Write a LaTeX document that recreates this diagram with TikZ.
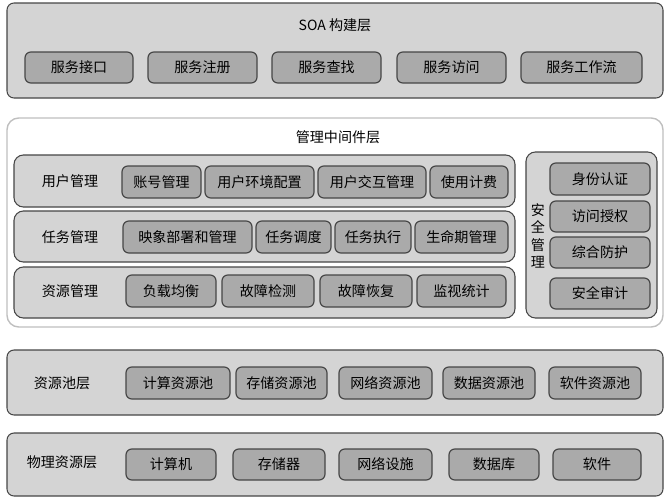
\documentclass[tikz,border=0pt]{standalone}
\usepackage{fontspec}
\newfontfamily\cjk{Noto Sans CJK SC}
\definecolor{soa@outer}{RGB}{212,212,212}
\definecolor{soa@inner}{RGB}{170,170,170}
\definecolor{soa@edge}{RGB}{70,70,70}
\tikzset{
  layer/.style={draw=soa@edge, fill=soa@outer, line width=0.9pt, rounded corners=6pt},
  panel/.style={draw=black!25, fill=white, line width=1.2pt, rounded corners=10pt},
  row/.style={draw=soa@edge, fill=soa@outer, line width=0.9pt, rounded corners=8pt},
  item/.style={draw=soa@edge, fill=soa@inner, line width=1pt, rounded corners=5pt},
}
% block from pixel corners (x1,y1)-(x2,y2)
\newcommand\blk[7]{%
  \node[#1, inner sep=0pt, minimum width={(#5-#3)*0.03cm}, minimum height={(#6-#4)*0.03cm}]
    (#2) at ({(#3+#5)/2},{(#4+#6)/2}) {#7};}

\begin{document}
\begin{tikzpicture}[x=0.03cm, y=-0.03cm, font=\cjk\fontsize{12}{14}\selectfont]
\useasboundingbox (0,0) rectangle (670,500);

% SOA layer
\blk{layer}{soa}{7}{3}{663}{98}{}
\node (soatitle) at (335,25) {SOA 构建层};
\blk{item}{soa1}{25}{52}{133}{83}{服务接口}
\blk{item}{soa2}{148}{52}{257}{83}{服务注册}
\blk{item}{soa3}{272}{52}{381}{83}{服务查找}
\blk{item}{soa4}{397}{52}{506}{83}{服务访问}
\blk{item}{soa5}{521}{52}{642}{83}{服务工作流}

% middleware layer
\blk{panel}{mid}{7}{118}{663}{327}{}
\node (midtitle) at (338,137) {管理中间件层};

% user management
\blk{row}{user}{14}{155}{515}{207}{}
\node (userlabel) at (70,181) {用户管理};
\blk{item}{user1}{122}{166}{201}{198}{账号管理}
\blk{item}{user2}{205}{166}{314}{198}{用户环境配置}
\blk{item}{user3}{318}{166}{426}{198}{用户交互管理}
\blk{item}{user4}{430}{166}{508}{198}{使用计费}

% task management
\blk{row}{task}{14}{211}{515}{262}{}
\node (tasklabel) at (70,237) {任务管理};
\blk{item}{task1}{123}{221}{252}{253}{映象部署和管理}
\blk{item}{task2}{256}{221}{331}{253}{任务调度}
\blk{item}{task3}{335}{221}{411}{253}{任务执行}
\blk{item}{task4}{415}{221}{508}{253}{生命期管理}

% resource management
\blk{row}{res}{14}{267}{515}{318}{}
\node (reslabel) at (70,291) {资源管理};
\blk{item}{res1}{126}{275}{216}{307}{负载均衡}
\blk{item}{res2}{222}{275}{314}{307}{故障检测}
\blk{item}{res3}{320}{275}{412}{307}{故障恢复}
\blk{item}{res4}{417}{275}{506}{307}{监视统计}

% security management
\blk{row}{sec}{526}{152}{657}{318}{}
\node[align=center, font=\cjk\fontsize{12}{15}\selectfont] (seclabel) at (538,236) {安\\全\\管\\理};
\blk{item}{sec1}{550}{163}{650}{195}{身份认证}
\blk{item}{sec2}{550}{201}{650}{232}{访问授权}
\blk{item}{sec3}{550}{237}{650}{268}{综合防护}
\blk{item}{sec4}{550}{278}{650}{309}{安全审计}

% resource pool layer
\blk{layer}{pool}{7}{350}{663}{415}{}
\node (poollabel) at (62,383) {资源池层};
\blk{item}{pool1}{126}{367}{230}{399}{计算资源池}
\blk{item}{pool2}{236}{367}{327}{399}{存储资源池}
\blk{item}{pool3}{339}{367}{432}{399}{网络资源池}
\blk{item}{pool4}{443}{367}{535}{399}{数据资源池}
\blk{item}{pool5}{549}{367}{641}{399}{软件资源池}

% physical resource layer
\blk{layer}{phys}{7}{433}{663}{496}{}
\node (physlabel) at (62,462) {物理资源层};
\blk{item}{phys1}{126}{449}{216}{480}{计算机}
\blk{item}{phys2}{233}{449}{325}{480}{存储器}
\blk{item}{phys3}{339}{449}{432}{480}{网络设施}
\blk{item}{phys4}{449}{449}{539}{480}{数据库}
\blk{item}{phys5}{553}{449}{641}{480}{软件}

\end{tikzpicture}
\end{document}
